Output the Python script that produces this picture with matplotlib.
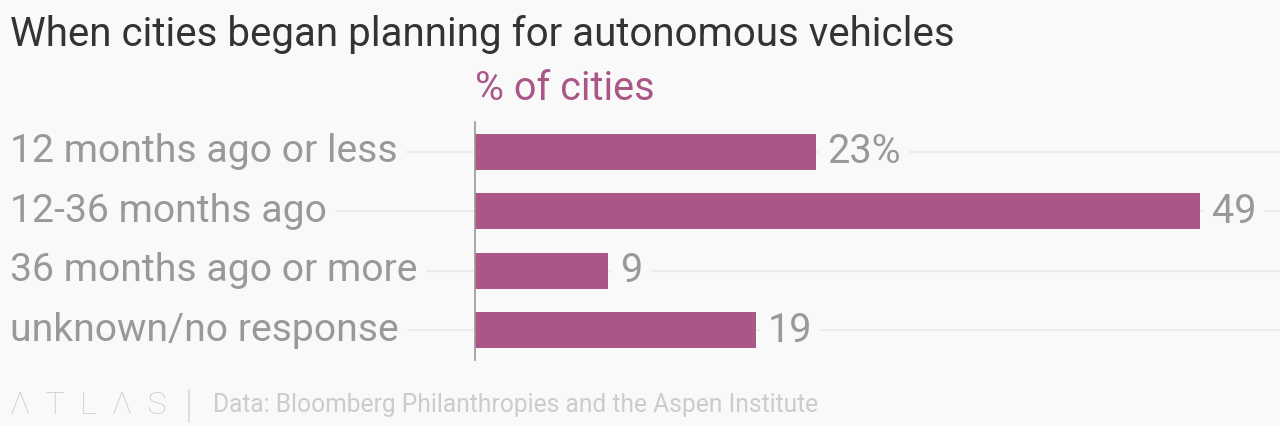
import matplotlib.pyplot as plt
from matplotlib.transforms import blended_transform_factory

categories = ["12 months ago or less", "12-36 months ago", "36 months ago or more", "unknown/no response"]
values = [23, 49, 9, 19]
value_labels = ["23%", "49", "9", "19"]

bg = "#f9f9f9"
bar_color = "#aa5686"
grey = "#999999"
grid_color = "#ececec"

plt.rcParams["font.family"] = ["Roboto", "DejaVu Sans"]

fig = plt.figure(figsize=(12.8, 4.26), dpi=100, facecolor=bg)
ax = fig.add_axes([475 / 1280, 66 / 426, 795 / 1280, 238 / 426], facecolor=bg)

y = list(range(len(values)))
ax.barh(y, values, height=0.61, color=bar_color, zorder=3)
ax.set_xlim(0, 53.7)
ax.set_ylim(3.5, -0.5)

trans = blended_transform_factory(fig.transFigure, ax.transData)
for i, (cat, v, lab) in enumerate(zip(categories, values, value_labels)):
    ax.plot([12 / 1280, 1], [i, i], transform=trans, color=grid_color, lw=1.5,
            zorder=0, clip_on=False)
    ax.text(10 / 1280, i, cat, transform=trans, ha="left", va="center",
            fontsize=28.2, color=grey, zorder=2,
            bbox=dict(facecolor=bg, edgecolor="none", pad=6))
    ax.text(v + 0.8, i, lab, ha="left", va="center", fontsize=28.5,
            color=grey, zorder=4,
            bbox=dict(facecolor=bg, edgecolor="none", pad=6))

ax.set_xticks([])
ax.set_yticks([])
for s in ["top", "right", "bottom"]:
    ax.spines[s].set_visible(False)
ax.spines["left"].set_color(grey)
ax.spines["left"].set_linewidth(1.2)
ax.spines["left"].set_zorder(5)

fig.text(10 / 1280, 1 - 34 / 426, "When cities began planning for autonomous vehicles",
         ha="left", va="center", fontsize=29, color="#333333")
fig.text(475 / 1280, 1 - 89 / 426, "% of cities", ha="left", va="center",
         fontsize=28.5, color=bar_color)

fig.text(10 / 1280, 1 - 405 / 426, "Λ  T  L  Λ  S", ha="left", va="center",
         fontsize=23, fontweight="light", color="#cccccc")
fig.add_artist(plt.Line2D([189 / 1280, 189 / 1280], [1 - 390 / 426, 1 - 422 / 426],
                          color="#d8d8d8", lw=1.2))
fig.text(213 / 1280, 1 - 405 / 426, "Data: Bloomberg Philanthropies and the Aspen Institute",
         ha="left", va="center", fontsize=17.7, color="#cccccc")

fig.savefig("out.png", dpi=100, facecolor=bg)
